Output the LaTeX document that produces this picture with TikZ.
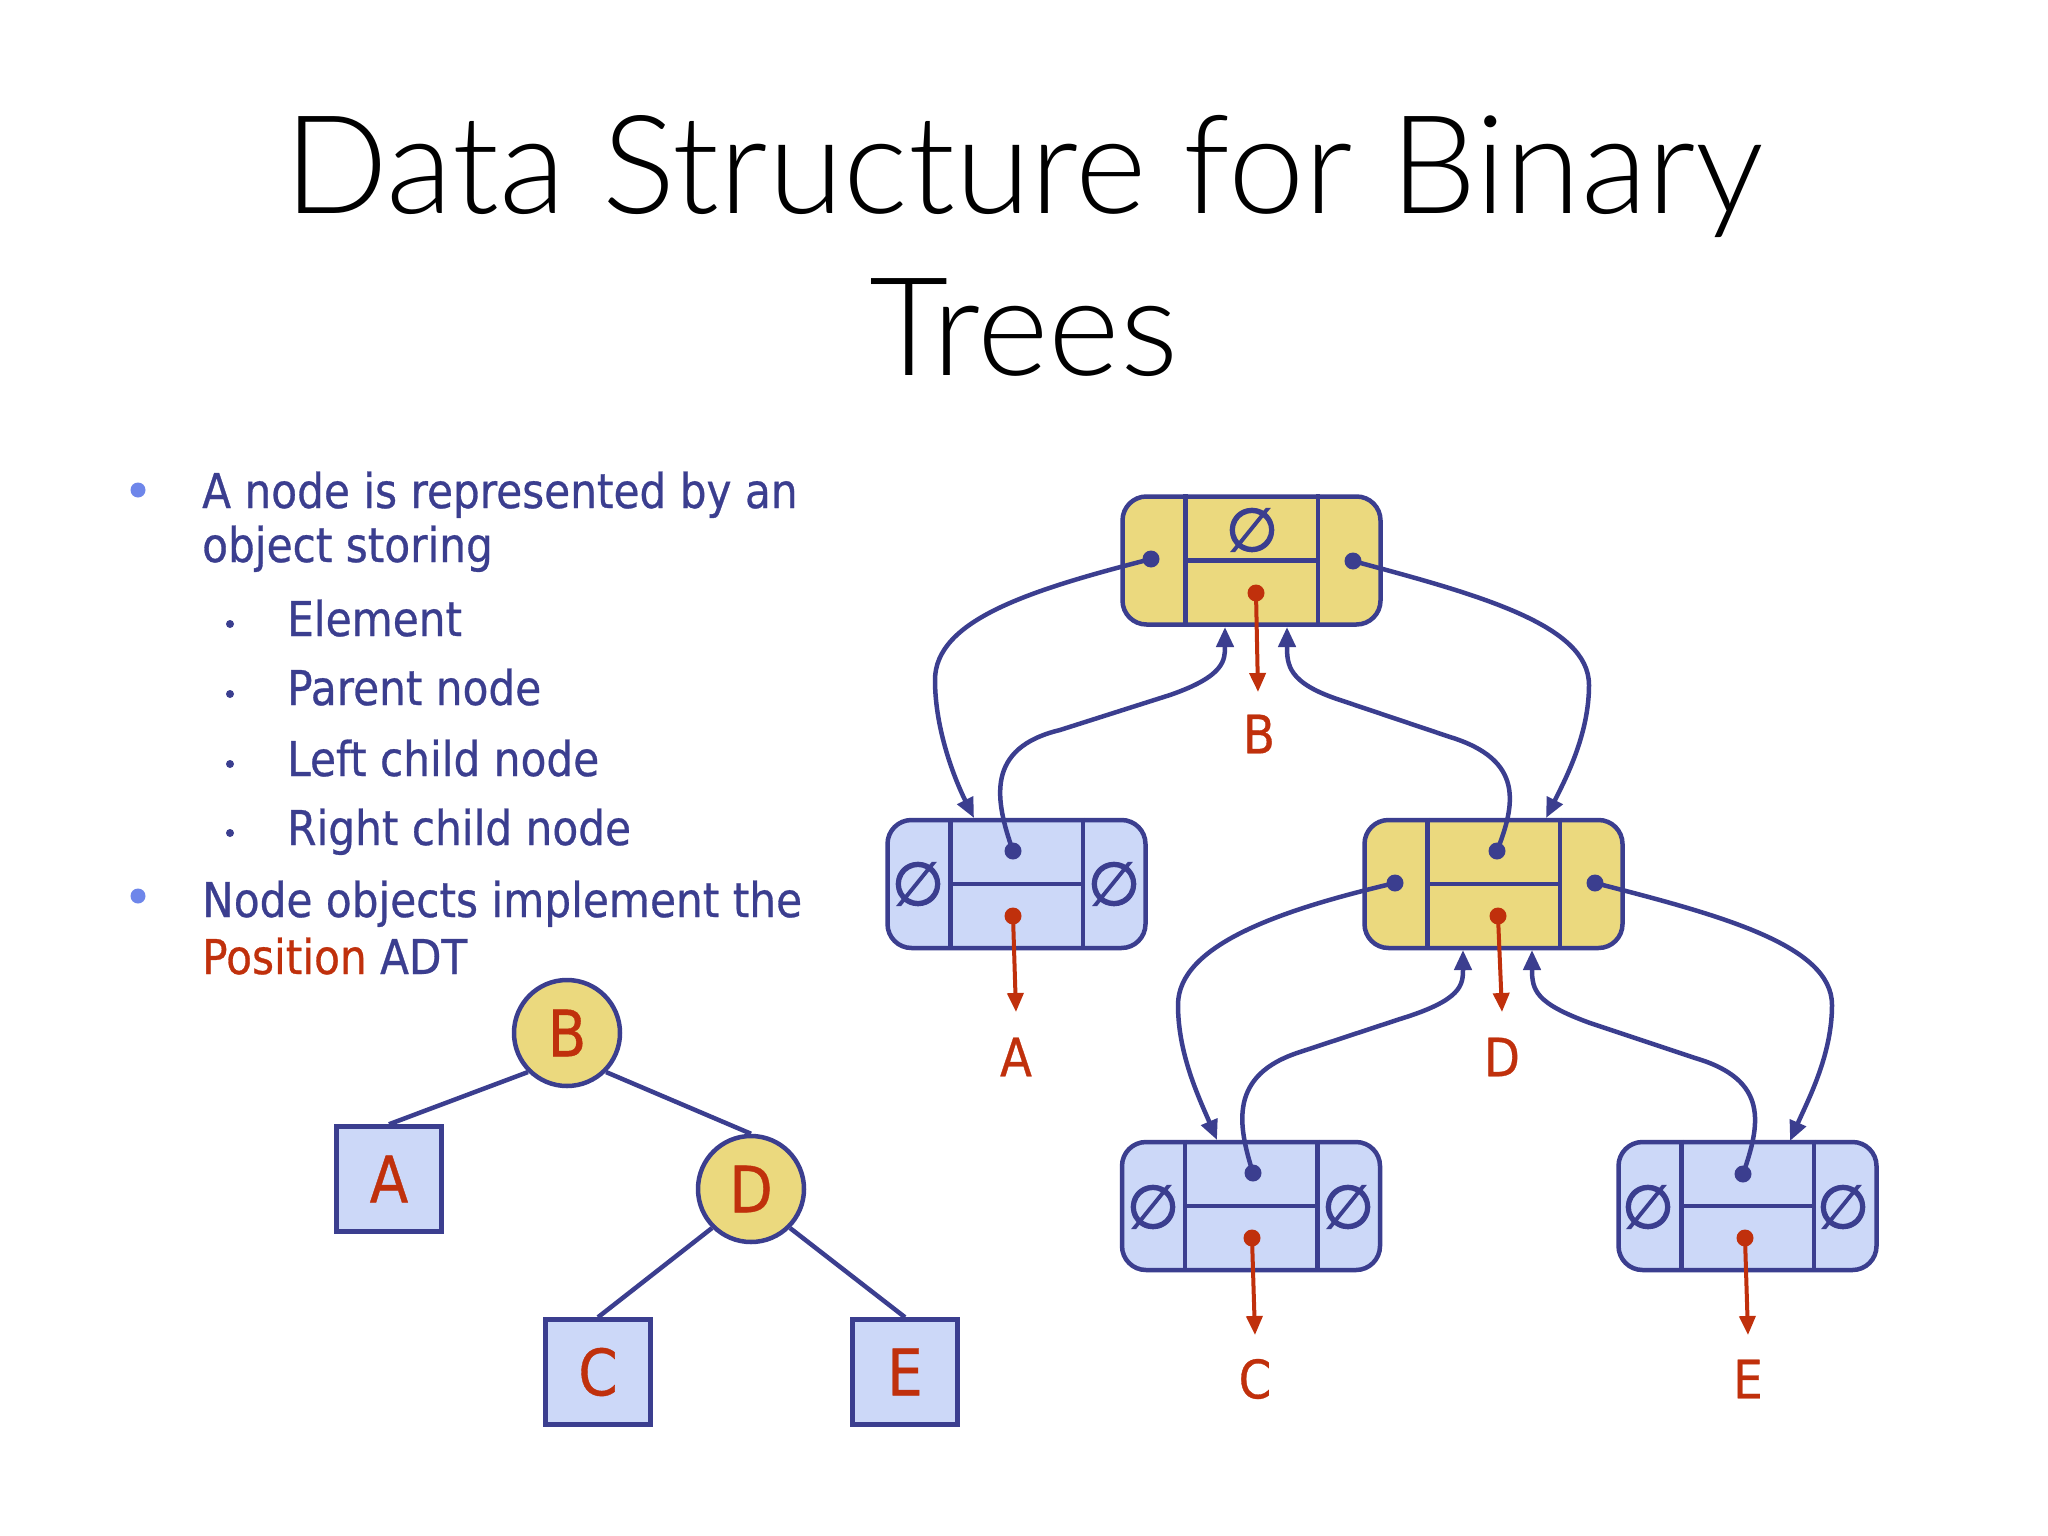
\documentclass[tikz,border=0pt]{standalone}
\usepackage{fontspec}
\usetikzlibrary{arrows.meta}
\newfontfamily\titlefont{Lato Light}
\newfontfamily\bodyfont{DejaVu Sans}[FakeStretch=0.88,FakeBold=0.6]
\newfontfamily\symfont{DejaVu Sans}[FakeBold=2.5]
\definecolor{navy}{HTML}{3B3E8F}
\definecolor{redc}{HTML}{C0300C}
\definecolor{yfill}{HTML}{EBD97E}
\definecolor{bfill}{HTML}{CCD8F8}
\definecolor{bulletc}{HTML}{6E86EA}
\newcommand\listcells[1]{%
  \draw[cell] ([xshift=65pt]#1.north west) -- ([xshift=65pt]#1.south west);
  \draw[cell] ([xshift=-65pt]#1.north east) -- ([xshift=-65pt]#1.south east);
  \draw[cell] ([xshift=65pt]#1.west) -- ([xshift=-65pt]#1.east);}
\tikzset{
  listbox/.style={draw=navy, line width=4.5pt, rounded corners=24pt, minimum width=258pt, minimum height=128pt, inner sep=0pt},
  ybox/.style={listbox, fill=yfill},
  bbox/.style={listbox, fill=bfill},
  cell/.style={draw=navy, line width=4.5pt},
  bdot/.style={circle, fill=navy, inner sep=0pt, minimum size=17pt},
  rdot/.style={circle, fill=redc, inner sep=0pt, minimum size=17pt},
  link/.style={draw=navy, line width=4.5pt, -{Triangle[length=20pt,width=17pt]}},
  elem/.style={draw=redc, line width=4pt, -{Triangle[length=19pt,width=16pt]}},
  lab/.style={text=redc, font=\bodyfont\fontsize{53}{60}\selectfont, inner sep=0pt},
  nullsym/.style={text=navy, font=\symfont\fontsize{60}{64}\selectfont, inner sep=0pt},
  titletext/.style={font=\titlefont\fontsize{137}{160}\selectfont, inner sep=0pt, anchor=base, text=black},
  bodytext/.style={font=\bodyfont\fontsize{48}{56}\selectfont, inner sep=0pt, anchor=base west, text=navy},
  bigbullet/.style={circle, fill=bulletc, inner sep=0pt, minimum size=15pt},
  smallbullet/.style={circle, fill=navy, inner sep=0pt, minimum size=8pt},
  tcirc/.style={circle, draw=navy, line width=4.5pt, fill=yfill, minimum size=106pt, inner sep=0pt, text=redc, font=\bodyfont\fontsize{64}{70}\selectfont},
  tsq/.style={rectangle, draw=navy, line width=4.5pt, fill=bfill, minimum size=105pt, inner sep=0pt, text=redc, font=\bodyfont\fontsize{64}{70}\selectfont},
  tedge/.style={draw=navy, line width=4.5pt},
}
\begin{document}
\begin{tikzpicture}[x=1pt,y=-1pt]
\useasboundingbox[fill=white] (0,0) rectangle (2048,1536);

% title
\node[titletext] (title1) at (1024,213) {Data Structure for Binary};
\node[titletext] (title2) at (1024,375) {Trees};

% bullets
\node[bigbullet] (bul1) at (138,490) {};
\node[bodytext] (t1) at (202,508) {A node is represented by an};
\node[bodytext] (t2) at (202,562) {object storing};
\node[smallbullet] (sb1) at (230,624) {};
\node[bodytext] (t3) at (287,636) {Element};
\node[smallbullet] (sb2) at (230,694) {};
\node[bodytext] (t4) at (287,705) {Parent node};
\node[smallbullet] (sb3) at (230,764) {};
\node[bodytext] (t5) at (287,776) {Left child node};
\node[smallbullet] (sb4) at (230,833) {};
\node[bodytext] (t6) at (287,845) {Right child node};
\node[bigbullet] (bul2) at (138,896) {};
\node[bodytext] (t7) at (202,917) {Node objects implement the};
\node[bodytext] (t8) at (202,974) {\textcolor{redc}{Position} ADT};

% small tree
\node[tcirc] (tB) at (567,1033) {B};
\node[tcirc] (tD) at (751,1189) {D};
\node[tsq] (tA) at (389,1179) {A};
\node[tsq] (tC) at (598,1372) {C};
\node[tsq] (tE) at (905,1372) {E};
\draw[tedge] (tB.south west) -- (tA.north);
\draw[tedge] (tB.south east) -- (tD.north);
\draw[tedge] (tD.south west) -- (tC.north);
\draw[tedge] (tD.south east) -- (tE.north);

% linked structure boxes
\node[ybox] (nB) at (1251.5,560.5) {};
\node[bbox] (nA) at (1016.5,884) {};
\node[ybox] (nD) at (1493.5,884) {};
\node[bbox] (nC) at (1251,1206) {};
\node[bbox] (nE) at (1747.5,1206) {};
\listcells{nB}
\listcells{nA}
\listcells{nD}
\listcells{nC}
\listcells{nE}

% null symbols
\node[nullsym] (zB) at (1252,530) {∅};
\node[nullsym] (zAl) at (918,884) {∅};
\node[nullsym] (zAr) at (1114,884) {∅};
\node[nullsym] (zCl) at (1153,1207) {∅};
\node[nullsym] (zCr) at (1348,1207) {∅};
\node[nullsym] (zEl) at (1648,1207) {∅};
\node[nullsym] (zEr) at (1843,1207) {∅};

% dots
\node[bdot] (Bl) at (1151,559) {};
\node[bdot] (Br) at (1353,561) {};
\node[rdot] (Be) at (1256,593) {};
\node[bdot] (Ap) at (1013,851) {};
\node[rdot] (Ae) at (1013,916) {};
\node[bdot] (Dl) at (1395,883) {};
\node[bdot] (Dr) at (1595,883) {};
\node[bdot] (Dp) at (1497,851) {};
\node[rdot] (De) at (1498,916) {};
\node[bdot] (Cp) at (1253,1173) {};
\node[rdot] (Ce) at (1252,1238) {};
\node[bdot] (Ep) at (1743,1174) {};
\node[rdot] (Ee) at (1745,1238) {};

% element labels
\node[lab] (lB) at (1259,734) {B};
\node[lab] (lA) at (1016,1057) {A};
\node[lab] (lD) at (1502,1057) {D};
\node[lab] (lC) at (1255,1379) {C};
\node[lab] (lE) at (1748,1379) {E};

% arrow end points
\coordinate (aB) at (1258,692);
\coordinate (aA) at (1016,1012);
\coordinate (aD) at (1502,1012);
\coordinate (aC) at (1255,1335);
\coordinate (aE) at (1748,1335);
\coordinate (inA) at (974,818);
\coordinate (inD) at (1546,818);
\coordinate (inC) at (1217,1140);
\coordinate (inE) at (1790,1141);
\coordinate (upBl) at (1225,627);
\coordinate (upBr) at (1287,627);
\coordinate (upDl) at (1463,950);
\coordinate (upDr) at (1532,950);

% element arrows
\draw[elem] (Be.center) -- (aB);
\draw[elem] (Ae.center) -- (aA);
\draw[elem] (De.center) -- (aD);
\draw[elem] (Ce.center) -- (aC);
\draw[elem] (Ee.center) -- (aE);

% child links
\draw[link] (Bl.center) .. controls (1030,590) and (935,620) .. (935,680)
  .. controls (935,730) and (955,780) .. (inA);
\draw[link] (Br.center) .. controls (1480,595) and (1589,625) .. (1589,685)
  .. controls (1589,735) and (1565,780) .. (inD);
\draw[link] (Dl.center) .. controls (1280,910) and (1178,945) .. (1178,1005)
  .. controls (1178,1055) and (1200,1100) .. (inC);
\draw[link] (Dr.center) .. controls (1720,915) and (1832,945) .. (1832,1005)
  .. controls (1832,1055) and (1808,1100) .. (inE);

% parent links
\draw[link] (Ap.center) .. controls (995,800) and (985,748) .. (1060,730)
  -- (1170,695) .. controls (1225,676) and (1225,660) .. (upBl);
\draw[link] (Dp.center) .. controls (1515,805) and (1525,760) .. (1450,737)
  -- (1340,700) .. controls (1288,683) and (1287,665) .. (upBr);
\draw[link] (Cp.center) .. controls (1238,1125) and (1228,1075) .. (1300,1052)
  -- (1400,1019) .. controls (1462,1000) and (1463,985) .. (upDl);
\draw[link] (Ep.center) .. controls (1760,1125) and (1770,1080) .. (1695,1058)
  -- (1590,1023) .. controls (1535,1003) and (1532,990) .. (upDr);
\end{tikzpicture}
\end{document}
